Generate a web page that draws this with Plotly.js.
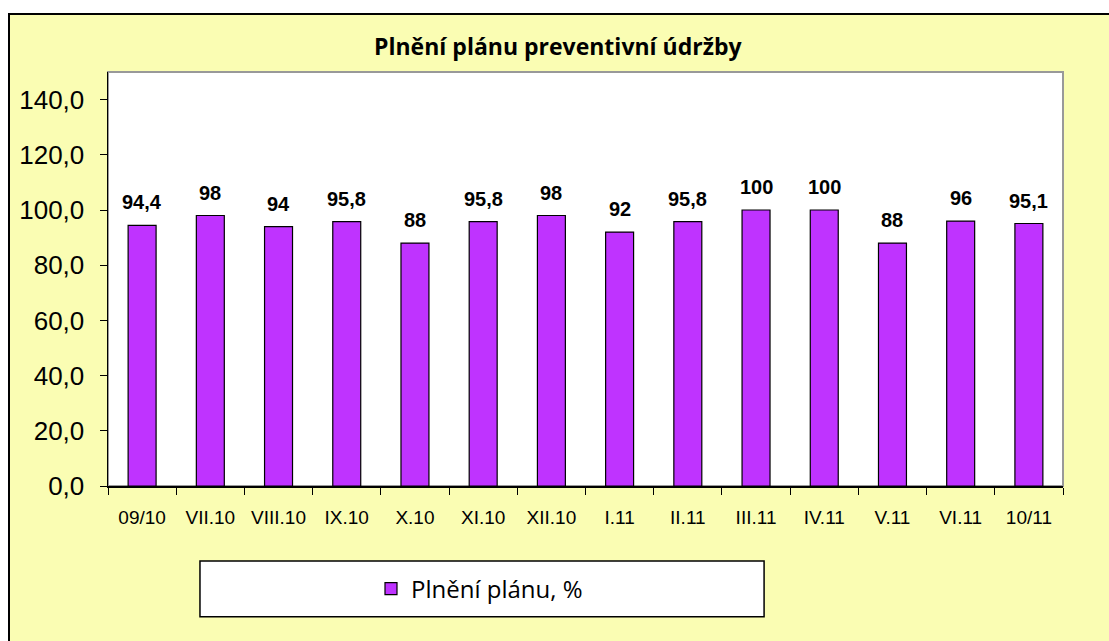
<!DOCTYPE html>
<html>
<head>
<meta charset="utf-8">
<script src="https://cdn.plot.ly/plotly-3.0.1.min.js"></script>
<style>
  html, body { margin: 0; padding: 0; background: #ffffff; width: 1109px; height: 641px; overflow: hidden; }
  #chart { position: absolute; left: 8px; top: 13px; width: 1101px; height: 628px;
           border-left: 2px solid #000; border-top: 2px solid #000; background: #FAFDB3; }
</style>
</head>
<body>
<div id="chart"></div>
<script>
const categories = ["09/10", "VII.10", "VIII.10", "IX.10", "X.10", "XI.10", "XII.10", "I.11", "II.11", "III.11", "IV.11", "V.11", "VI.11", "10/11"];
const values = [94.4, 98, 94, 95.8, 88, 95.8, 98, 92, 95.8, 100, 100, 88, 96, 95.1];
const seriesName = "Plnění plánu, %";
const chartTitle = "Plnění plánu preventivní údržby";
const yTicks = [0, 20, 40, 60, 80, 100, 120, 140];

const labels = values.map(v => String(v).replace('.', ','));

const trace = {
  type: 'bar',
  x: categories,
  y: values,
  name: seriesName,
  cliponaxis: false,
  marker: { color: '#BF33FF', line: { color: '#000', width: 1.2 } },
  showlegend: true,
  hoverinfo: 'skip'
};

const valueAnnotations = categories.map((c, i) => ({
  x: c, y: values[i], xref: 'x', yref: 'y',
  text: '<b>' + labels[i] + '</b>',
  showarrow: false, yanchor: 'bottom', yshift: 10,
  font: { family: 'Liberation Sans', size: 20, color: '#000' }
}));

const layout = {
  width: 1099, height: 626,
  margin: { l: 98, r: 46, t: 57, b: 155 },
  paper_bgcolor: '#FAFDB3',
  plot_bgcolor: '#ffffff',
  separators: ',.',
  bargap: 0.59,
  title: {
    text: '<b>' + chartTitle + '</b>',
    font: { family: 'Open Sans', size: 23, color: '#000' },
    x: 0.471, xanchor: 'center', xref: 'paper',
    y: 1 - 32/626, yanchor: 'middle'
  },
  xaxis: {
    type: 'category',
    tickson: 'boundaries',
    ticks: 'outside', ticklen: 7, tickcolor: '#000', tickwidth: 1,
    ticklabelstandoff: 14,
    showline: true, linecolor: '#000', linewidth: 1.5,
    showgrid: false,
    tickfont: { family: 'Liberation Sans', size: 19, color: '#000' },
    fixedrange: true
  },
  yaxis: {
    range: [0, 150],
    tickvals: yTicks,
    tickformat: '.1f',
    ticks: 'outside', ticklen: 7, tickcolor: '#000', tickwidth: 1,
    ticklabelstandoff: 10,
    showline: true, linecolor: '#000', linewidth: 1.5,
    showgrid: false, zeroline: false,
    tickfont: { family: 'Liberation Sans', size: 26, color: '#000' },
    fixedrange: true
  },
  annotations: valueAnnotations,
  shapes: [
    { type: 'rect', xref: 'paper', yref: 'paper', x0: 0, x1: 1, y0: 0, y1: 1,
      line: { color: '#999999', width: 2 }, fillcolor: 'rgba(0,0,0,0)', layer: 'below' },
    { type: 'rect', xref: 'paper', yref: 'paper', x0: 0.0963, x1: 0.687, y0: -0.181, y1: -0.316,
      line: { color: '#000', width: 1.5 }, fillcolor: '#ffffff', layer: 'below' }
  ],
  legend: {
    orientation: 'h',
    x: 0.389, xanchor: 'center',
    y: -0.249, yanchor: 'middle',
    bgcolor: 'rgba(0,0,0,0)',
    font: { family: 'Open Sans', size: 24, color: '#000' }
  },
  showlegend: true
};

Plotly.newPlot('chart', [trace], layout, { displayModeBar: false, staticPlot: true });
</script>
</body>
</html>
